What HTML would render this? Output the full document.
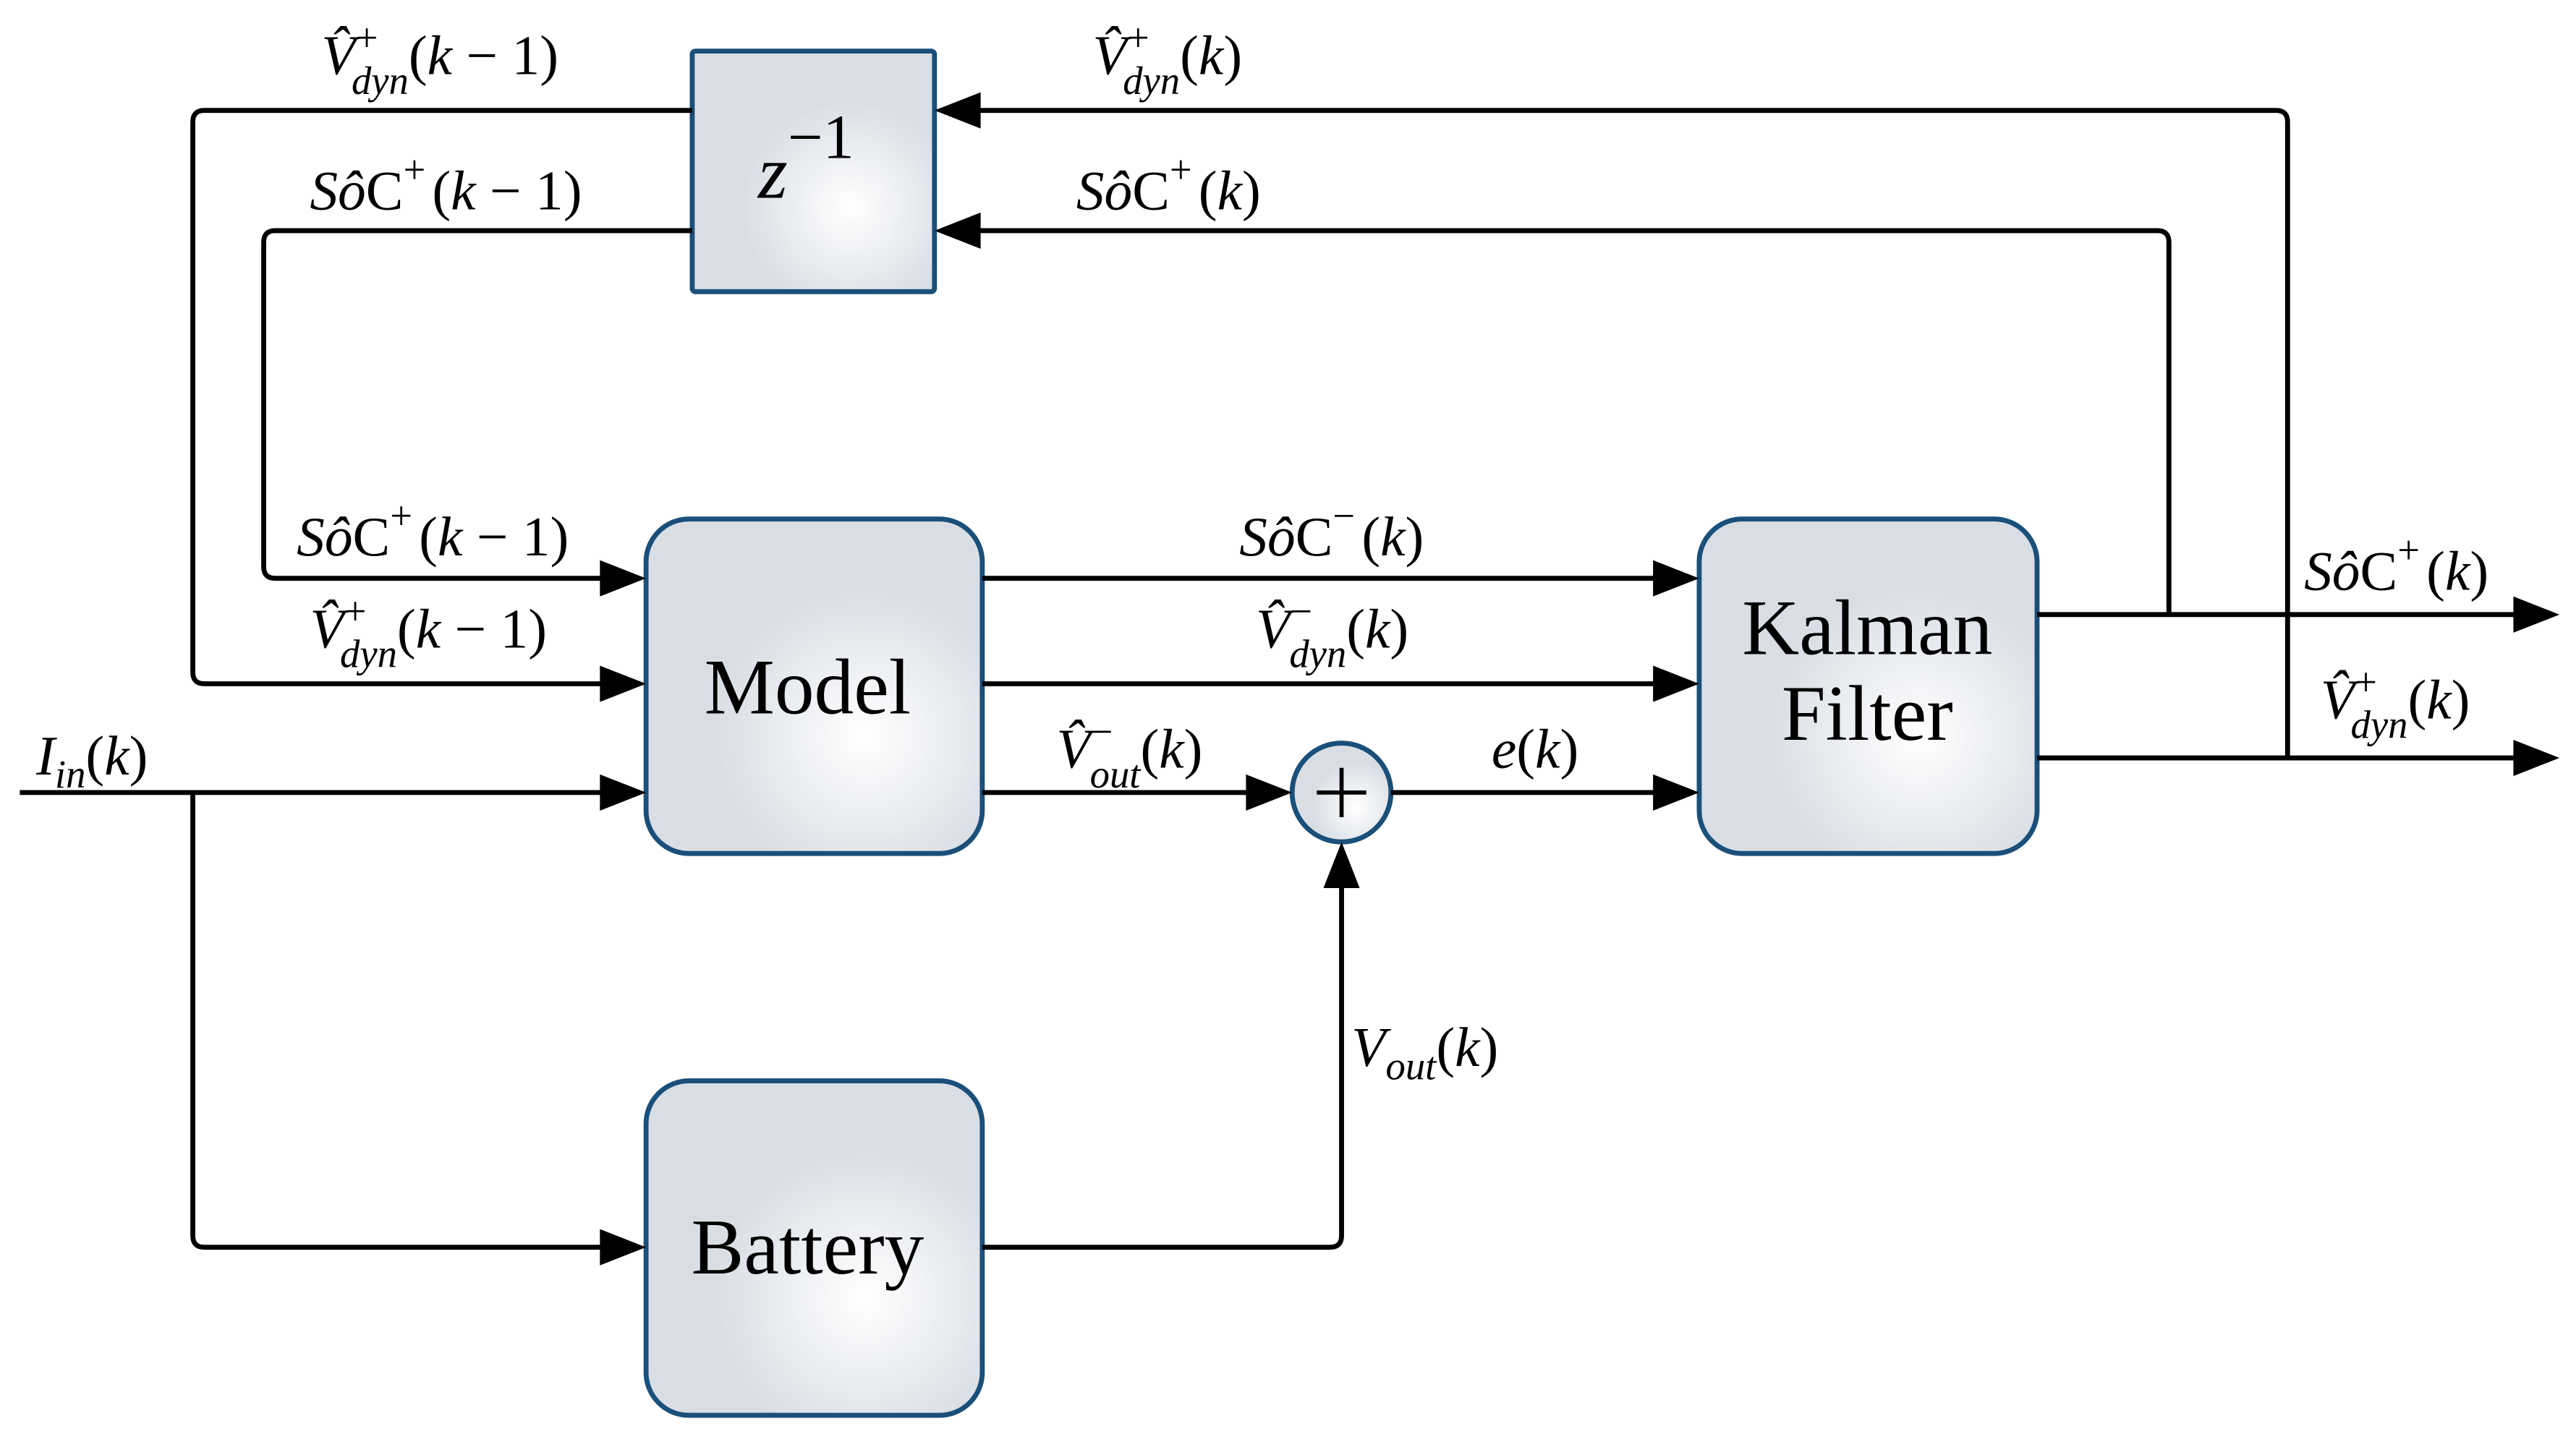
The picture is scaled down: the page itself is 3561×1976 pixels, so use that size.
<!DOCTYPE html>
<html><head><meta charset="utf-8"><style>
html,body{margin:0;padding:0;background:#fff;}
svg{display:block;}
text{font-family:"Liberation Serif",serif;fill:#000;}
.m{font-size:34px;}
.i{font-style:italic;}
.s{font-size:24px;}
.b{font-size:48px;}
</style></head><body>
<svg width="3561" height="1976" viewBox="0 0 1563 867.3" xmlns="http://www.w3.org/2000/svg">
<defs>
<radialGradient id="g" cx="0.65" cy="0.65" r="0.45">
<stop offset="0" stop-color="#ffffff"/><stop offset="1" stop-color="#d9dee5"/></radialGradient>
</defs>
<g fill="url(#g)" stroke="#1a4f7a" stroke-width="3">
<rect x="420" y="31" width="147" height="146" rx="2"/>
<rect x="392" y="315" width="204" height="203" rx="26"/>
<rect x="392" y="656" width="204" height="203" rx="26"/>
<rect x="1031" y="315" width="205" height="203" rx="26"/>
<circle cx="814" cy="481" r="30"/>
</g>
<g fill="none" stroke="#000" stroke-width="3" stroke-linejoin="round">
<path d="M420 67 H124 Q117 67 117 74 V408 Q117 415 124 415 H366"/>
<path d="M420 140 H167 Q160 140 160 147 V344 Q160 351 167 351 H366"/>
<path d="M12 481 H366"/>
<path d="M117 481 V750 Q117 757 124 757 H366"/>
<path d="M596 757 H807 Q814 757 814 750 V537"/>
<path d="M596 351 H1005 M596 415 H1005 M596 481 H758 M844 481 H1005"/>
<path d="M1236 373 H1525 M1236 460 H1525"/>
<path d="M1316 373 V147 Q1316 140 1309 140 H593"/>
<path d="M1388 460 V74 Q1388 67 1381 67 H593"/>
<path d="M799 481 H829 M814 466 V496" stroke-width="2.5"/>
</g>
<g fill="#000">
<path d="M392 351 l-28 -11 v22z"/><path d="M392 415 l-28 -11 v22z"/>
<path d="M392 481 l-28 -11 v22z"/><path d="M392 757 l-28 -11 v22z"/>
<path d="M1031 351 l-28 -11 v22z"/><path d="M1031 415 l-28 -11 v22z"/>
<path d="M1031 481 l-28 -11 v22z"/><path d="M784 481 l-28 -11 v22z"/>
<path d="M814 511 l-11 28 h22z"/>
<path d="M1553 373 l-28 -11 v22z"/><path d="M1553 460 l-28 -11 v22z"/>
<path d="M567 67 l28 -11 v22z"/><path d="M567 140 l28 -11 v22z"/>
</g>
<text class="m" x="195" y="45"><tspan class="i">V̂</tspan><tspan class="s" dy="-14">+</tspan><tspan class="s i" dx="-16" dy="26">dyn</tspan><tspan dy="-12">(</tspan><tspan class="i">k</tspan> − 1)</text>
<text class="m" x="188" y="127"><tspan class="i">Sô</tspan>C<tspan class="s" dy="-16">+</tspan><tspan dy="16" dx="4">(</tspan><tspan class="i">k</tspan> − 1)</text>
<text class="m" x="663" y="45"><tspan class="i">V̂</tspan><tspan class="s" dy="-14">+</tspan><tspan class="s i" dx="-16" dy="26">dyn</tspan><tspan dy="-12">(</tspan><tspan class="i">k</tspan>)</text>
<text class="m" x="653" y="127"><tspan class="i">Sô</tspan>C<tspan class="s" dy="-16">+</tspan><tspan dy="16" dx="4">(</tspan><tspan class="i">k</tspan>)</text>
<text class="m" x="180" y="337"><tspan class="i">Sô</tspan>C<tspan class="s" dy="-16">+</tspan><tspan dy="16" dx="4">(</tspan><tspan class="i">k</tspan> − 1)</text>
<text class="m" x="188" y="393"><tspan class="i">V̂</tspan><tspan class="s" dy="-14">+</tspan><tspan class="s i" dx="-16" dy="26">dyn</tspan><tspan dy="-12">(</tspan><tspan class="i">k</tspan> − 1)</text>
<text class="m" x="752" y="337"><tspan class="i">Sô</tspan>C<tspan class="s" dy="-16">−</tspan><tspan dy="16" dx="4">(</tspan><tspan class="i">k</tspan>)</text>
<text class="m" x="762" y="393"><tspan class="i">V̂</tspan><tspan class="s" dy="-14">−</tspan><tspan class="s i" dx="-14" dy="26">dyn</tspan><tspan dy="-12">(</tspan><tspan class="i">k</tspan>)</text>
<text class="m" x="641" y="466"><tspan class="i">V̂</tspan><tspan class="s" dy="-14">−</tspan><tspan class="s i" dx="-14" dy="26">out</tspan><tspan dy="-12">(</tspan><tspan class="i">k</tspan>)</text>
<text class="m" x="905" y="466"><tspan class="i">e</tspan>(<tspan class="i">k</tspan>)</text>
<text class="m" x="22" y="470"><tspan class="i">I</tspan><tspan class="s i" dy="8">in</tspan><tspan dy="-8">(</tspan><tspan class="i">k</tspan>)</text>
<text class="m" x="820" y="647"><tspan class="i">V</tspan><tspan class="s i" dy="8">out</tspan><tspan dy="-8">(</tspan><tspan class="i">k</tspan>)</text>
<text class="m" x="1398" y="358"><tspan class="i">Sô</tspan>C<tspan class="s" dy="-16">+</tspan><tspan dy="16" dx="4">(</tspan><tspan class="i">k</tspan>)</text>
<text class="m" x="1408" y="436"><tspan class="i">V̂</tspan><tspan class="s" dy="-14">+</tspan><tspan class="s i" dx="-16" dy="26">dyn</tspan><tspan dy="-12">(</tspan><tspan class="i">k</tspan>)</text>
<text x="460" y="120" font-size="46" font-style="italic">z<tspan font-size="38" font-style="normal" dy="-24">−1</tspan></text>
<text class="b" x="490" y="433" text-anchor="middle">Model</text>
<text class="b" x="490" y="773" text-anchor="middle">Battery</text>
<text class="b" x="1133" y="397" text-anchor="middle">Kalman</text>
<text class="b" x="1133" y="449" text-anchor="middle">Filter</text>
</svg>
</body></html>
